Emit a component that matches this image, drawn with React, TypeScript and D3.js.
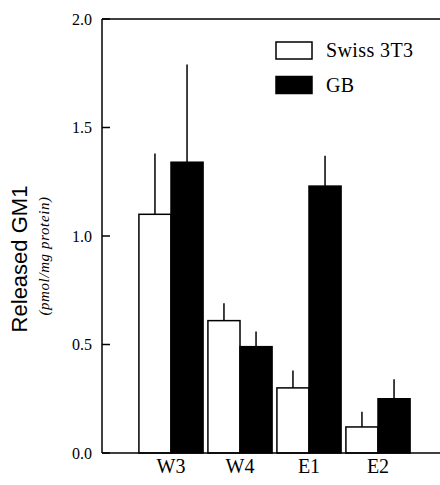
import React from "react";
import * as d3 from "d3";

// data
const categories = ["W3", "W4", "E1", "E2"];
const seriesNames = ["Swiss 3T3", "GB"];
const swissValues = [1.1, 0.61, 0.3, 0.12];
const swissErrors = [0.28, 0.08, 0.08, 0.07];
const gbValues = [1.34, 0.49, 1.23, 0.25];
const gbErrors = [0.45, 0.07, 0.14, 0.09];
const yTicks = [0, 0.5, 1.0, 1.5, 2.0];

const W = 440;
const H = 485;
const serif = { fontFamily: "'Times New Roman', Times, 'Liberation Serif', 'DejaVu Serif', serif" };
const sans = { fontFamily: "Arial, Helvetica, 'Liberation Sans', sans-serif" };

const App = () => {
  const left = 102;
  const top = 19;
  const bottom = 453;

  const y = d3.scaleLinear().domain([0, 2]).range([bottom, top]);
  const x = d3
    .scaleBand()
    .domain(categories)
    .range([136.5, 412.5])
    .paddingInner(0.07)
    .paddingOuter(0.035);
  const xs = d3.scaleBand().domain(seriesNames).range([0, x.bandwidth()]);

  const rows = categories.map((c, i) => ({
    cat: c,
    bars: [
      { name: seriesNames[0], v: swissValues[i], e: swissErrors[i], fill: "#fff" },
      { name: seriesNames[1], v: gbValues[i], e: gbErrors[i], fill: "#000" },
    ],
  }));

  return (
    <div style={{ position: "absolute", left: 0, top: 0 }}>
      <svg width={W} height={H} style={{ display: "block", background: "#fff" }}>
        {/* error bars (upper only) */}
        {rows.map((r) =>
          r.bars.map((b) => {
            const cx = (x(r.cat) ?? 0) + (xs(b.name) ?? 0) + xs.bandwidth() / 2;
            return (
              <line
                key={"e" + r.cat + b.name}
                x1={cx}
                x2={cx}
                y1={y(b.v)}
                y2={y(b.v + b.e)}
                stroke="#000"
                strokeWidth={1.5}
              />
            );
          })
        )}
        {/* bars */}
        {rows.map((r) =>
          r.bars.map((b) => (
            <rect
              key={r.cat + b.name}
              x={(x(r.cat) ?? 0) + (xs(b.name) ?? 0)}
              y={y(b.v)}
              width={xs.bandwidth()}
              height={y(0) - y(b.v)}
              fill={b.fill}
              stroke="#000"
              strokeWidth={1.5}
            />
          ))
        )}

        {/* frame */}
        <line x1={left} x2={W} y1={top} y2={top} stroke="#000" strokeWidth={1.5} />
        <line x1={left} x2={W} y1={bottom} y2={bottom} stroke="#000" strokeWidth={1.5} />
        <line x1={left} x2={left} y1={top} y2={bottom} stroke="#000" strokeWidth={1.5} />

        {/* y ticks */}
        {yTicks.map((t) => (
          <g key={t}>
            <line x1={left} x2={left + 8} y1={y(t)} y2={y(t)} stroke="#000" strokeWidth={1.5} />
            <text
              x={92}
              y={y(t)}
              dy="0.35em"
              textAnchor="end"
              style={{ ...serif, fontSize: 16 }}
              fill="#000"
            >
              {t.toFixed(1)}
            </text>
          </g>
        ))}

        {/* category labels */}
        {categories.map((c) => (
          <text
            key={c}
            x={(x(c) ?? 0) + x.bandwidth() / 2}
            y={473}
            textAnchor="middle"
            style={{ ...serif, fontSize: 20 }}
            fill="#000"
          >
            {c}
          </text>
        ))}

        {/* y axis title */}
        <text
          transform="translate(27,259) rotate(-90)"
          textAnchor="middle"
          style={{ ...sans, fontSize: 22 }}
          fill="#000"
        >
          Released GM1
        </text>
        <text
          transform="translate(49,256) rotate(-90)"
          textAnchor="middle"
          style={{ ...serif, fontSize: 15, fontStyle: "italic", letterSpacing: 0.6 }}
          fill="#000"
        >
          (pmol/mg protein)
        </text>

        {/* legend */}
        {seriesNames.map((n, i) => (
          <g key={n} transform={`translate(276,${42 + i * 34.5})`}>
            <rect
              width={36}
              height={17}
              fill={i === 0 ? "#fff" : "#000"}
              stroke="#000"
              strokeWidth={1.5}
            />
            <text x={50} y={15} style={{ ...serif, fontSize: 20, letterSpacing: 0.4 }} fill="#000">
              {n}
            </text>
          </g>
        ))}
      </svg>
    </div>
  );
};

export default App;
